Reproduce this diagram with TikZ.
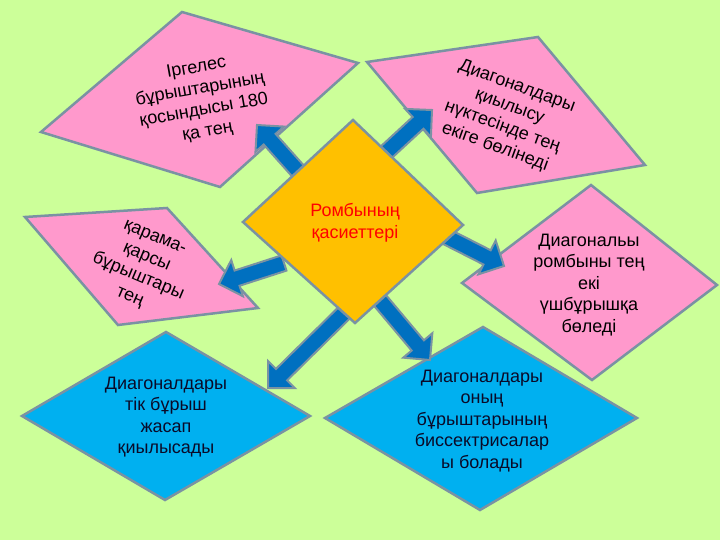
\documentclass[tikz,border=0pt]{standalone}
\usepackage{fontspec}
\setmainfont{Liberation Sans}
\usetikzlibrary{calc}
\definecolor{bg}{RGB}{204,255,153}
\definecolor{pinkf}{RGB}{255,153,204}
\definecolor{goldf}{RGB}{255,192,0}
\definecolor{bluef}{RGB}{0,176,240}
\definecolor{arrf}{RGB}{0,112,192}
\definecolor{bord}{RGB}{122,146,163}
\definecolor{navytxt}{RGB}{10,10,40}
\tikzset{
  shapebox/.style={draw=bord, line width=2.5pt, line join=miter},
  pinkbox/.style={shapebox, fill=pinkf},
  bluebox/.style={shapebox, fill=bluef},
  centerbox/.style={shapebox, fill=goldf},
  txt/.style={align=center, font=\fontsize{18}{21.5}\selectfont, text=black, inner sep=0pt},
  bluetxt/.style={txt, text=navytxt},
  redtxt/.style={txt, text=red},
  blockarr/.style={draw=bord, fill=arrf, line width=2pt, line join=miter},
}
\newcommand\blockarrow[2]{%
  \coordinate (neck) at ($(#2)!19pt!(#1)$);
  \path[blockarr] ($(#1)!8pt!90:(#2)$) -- ($(neck)!8pt!90:(#2)$) -- ($(neck)!19pt!90:(#2)$) -- (#2) -- ($(neck)!19pt!-90:(#2)$) -- ($(neck)!8pt!-90:(#2)$) -- ($(#1)!8pt!-90:(#2)$) -- cycle;}
\begin{document}
\begin{tikzpicture}[x=1pt, y=-1pt]
\fill[bg] (0,0) rectangle (720,540);
\useasboundingbox (0,0) rectangle (720,540);

% outer shapes
\path[pinkbox] (41,132) -- (182,12) -- (358,63) -- (220,187) -- cycle;
\path[pinkbox] (367,62) -- (538,37) -- (645,165) -- (477,193) -- cycle;
\path[pinkbox] (25,217) -- (167,208) -- (258,308) -- (118,325) -- cycle;
\path[pinkbox] (462,283) -- (591,185) -- (717,285) -- (592,380) -- cycle;
\path[bluebox] (166,332) -- (310,416) -- (165,500) -- (22,416) -- cycle;
\path[bluebox] (483,327) -- (637,418) -- (480,510) -- (325,418) -- cycle;

% texts
\node[txt, rotate=10] (tl) at (202,100) {Іргелес\\бұрыштарының\\қосындысы 180\\қа тең};
\node[txt, rotate=-20] (tr) at (506,117) {Диагоналдары\\қиылысу\\нүктесінде тең\\екіге бөлінеді};
\node[txt, rotate=-23] (lf) at (142,268) {қарама-\\қарсы\\бұрыштары\\тең};
\node[txt] (rt) at (589,285) {Диагональы\\ромбыны тең\\екі\\үшбұрышқа\\бөледі};
\node[bluetxt] (bl) at (166,417) {Диагоналдары\\тік бұрыш\\жасап\\қиылысады};
\node[bluetxt] (br) at (482,421) {Диагоналдары\\оның\\бұрыштарының\\биссектрисалар\\ы болады};

% arrow end points
\coordinate (a1s) at (306,180); \coordinate (a1e) at (257,125);
\coordinate (a2s) at (380,158); \coordinate (a2e) at (432,110);
\coordinate (a3s) at (445,236); \coordinate (a3e) at (504,266);
\coordinate (a4s) at (284,263); \coordinate (a4e) at (219,284);
\coordinate (a5s) at (345,312); \coordinate (a5e) at (268,388);
\coordinate (a6s) at (378,298); \coordinate (a6e) at (430,360);
\blockarrow{a1s}{a1e}
\blockarrow{a2s}{a2e}
\blockarrow{a3s}{a3e}
\blockarrow{a4s}{a4e}
\blockarrow{a5s}{a5e}
\blockarrow{a6s}{a6e}

% centre
\path[centerbox] (353,120) -- (463,225) -- (355,323) -- (243,222) -- cycle;
\node[redtxt] (ctr) at (355,223) {Ромбының\\қасиеттері};
\end{tikzpicture}
\end{document}
